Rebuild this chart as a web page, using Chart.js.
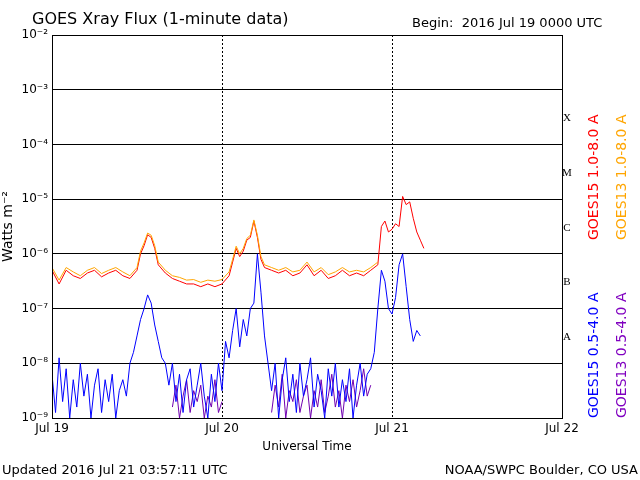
<!DOCTYPE html>
<html><head><meta charset="utf-8">
<script src="https://cdn.jsdelivr.net/npm/chart.js@4/dist/chart.umd.min.js"></script>
<style>body{margin:0;background:#fff}#wrap{width:640px;height:480px}</style>
</head><body><div id="wrap"><canvas id="c" width="640" height="480"></canvas></div>
<script>
// hours since 2016 Jul 19 00:00 UTC, values as log10(W/m2)
const redHours = [0,1,2,3,4,5,6,7,8,9,10,11,12,12.5,13,13.5,14,14.5,15,16,17,18,19,20,21,22,23,24,25,25.5,26,26.5,27,27.5,28,28.5,29,29.5,30,31,32,33,34,35,36,37,38,39,40,41,42,43,44,45,46,46.5,47,47.5,48,48.5,49,49.5,50,50.5,51,51.5,52,52.5];
const redLog = [-6.3,-6.55,-6.3,-6.4,-6.45,-6.35,-6.3,-6.42,-6.35,-6.3,-6.4,-6.45,-6.3,-6.0,-5.85,-5.65,-5.7,-5.9,-6.2,-6.35,-6.45,-6.5,-6.55,-6.55,-6.6,-6.55,-6.6,-6.55,-6.4,-6.15,-5.9,-6.05,-5.95,-5.75,-5.7,-5.4,-5.7,-6.1,-6.25,-6.3,-6.35,-6.3,-6.4,-6.35,-6.2,-6.4,-6.3,-6.45,-6.4,-6.3,-6.4,-6.35,-6.4,-6.3,-6.2,-5.5,-5.4,-5.6,-5.55,-5.45,-5.5,-4.95,-5.1,-5.05,-5.35,-5.6,-5.75,-5.9];
const orangeHours = [0,1,2,3,4,5,6,7,8,9,10,11,12,12.5,13,13.5,14,14.5,15,16,17,18,19,20,21,22,23,24,25,25.5,26,26.5,27,27.5,28,28.5,29,29.5,30,31,32,33,34,35,36,37,38,39,40,41,42,43,44,45,46];
const orangeLog = [-6.25,-6.48,-6.25,-6.33,-6.4,-6.3,-6.25,-6.36,-6.3,-6.25,-6.33,-6.4,-6.25,-5.95,-5.8,-5.62,-5.66,-5.85,-6.15,-6.3,-6.4,-6.43,-6.48,-6.47,-6.52,-6.48,-6.5,-6.47,-6.33,-6.1,-5.86,-6.0,-5.9,-5.72,-5.66,-5.38,-5.66,-6.05,-6.2,-6.25,-6.3,-6.25,-6.33,-6.3,-6.15,-6.33,-6.25,-6.38,-6.33,-6.25,-6.33,-6.3,-6.33,-6.25,-6.15];
const blueHours = [0,0.5,1,1.5,2,2.5,3,3.5,4,4.5,5,5.5,6,6.5,7,7.5,8,8.5,9,9.5,10,10.5,11,11.5,12,12.5,13,13.5,14,14.5,15,15.5,16,16.5,17,17.5,18,18.5,19,19.5,20,20.5,21,21.5,22,22.5,23,23.5,24,24.5,25,25.5,26,26.5,27,27.5,28,28.5,29,29.5,30,30.5,31,31.5,32,32.5,33,33.5,34,34.5,35,35.5,36,36.5,37,37.5,38,38.5,39,39.5,40,40.5,41,41.5,42,42.5,43,43.5,44,44.5,45,45.5,46,46.5,47,47.5,48,48.5,49,49.5,50,50.5,51,51.5,52];
const blueLog = [-8.2,-8.9,-7.9,-8.7,-8.1,-9,-8.3,-8.8,-8.0,-8.6,-8.2,-9,-8.4,-8.1,-8.9,-8.3,-8.7,-8.2,-9,-8.5,-8.3,-8.6,-8.0,-7.8,-7.5,-7.2,-7.0,-6.75,-6.9,-7.3,-7.6,-7.9,-8.0,-8.4,-8.0,-8.7,-8.2,-8.9,-8.3,-8.1,-8.8,-8.4,-8.0,-8.6,-9,-8.2,-8.7,-8.0,-8.5,-7.6,-7.9,-7.4,-7.0,-7.7,-7.2,-7.5,-7.0,-6.9,-6.0,-6.7,-7.5,-8.0,-8.5,-8.0,-9,-8.3,-7.9,-8.7,-8.2,-8.9,-8.0,-8.6,-8.3,-7.9,-8.8,-8.2,-8.5,-9,-8.1,-8.6,-8.0,-8.8,-8.3,-8.7,-8.1,-9,-8.4,-8.0,-8.6,-8.2,-8.1,-7.8,-7.0,-6.3,-6.5,-7.0,-7.1,-6.8,-6.2,-6.0,-6.6,-7.2,-7.6,-7.4,-7.5];
// GOES13 short channel: two stretches, null marks the gap
const purpleHours = [17,17.5,18,18.5,19,19.5,20,20.5,21,21.5,22,22.5,23,23.5,24,27,31,31.5,32,32.5,33,33.5,34,34.5,35,35.5,36,36.5,37,37.5,38,38.5,39,39.5,40,40.5,41,41.5,42,42.5,43,43.5,44,44.5,45];
const purpleLog = [-8.8,-8.4,-9,-8.6,-8.3,-8.9,-8.5,-8.7,-8.4,-9,-8.6,-8.8,-8.3,-8.9,-8.7,null,-8.9,-8.4,-8.8,-8.2,-9,-8.5,-8.7,-8.3,-8.9,-8.6,-8.4,-9,-8.5,-8.8,-8.3,-8.9,-8.6,-8.2,-8.8,-8.5,-9,-8.4,-8.7,-8.3,-8.8,-8.5,-8.1,-8.6,-8.4];
const dayTicks = [0, 24, 48, 72];
const dayLabels = ['Jul 19', 'Jul 20', 'Jul 21', 'Jul 22'];
const decadeTicks = [-9,-8,-7,-6,-5,-4,-3,-2];
const sup = {'-':'⁻','0':'⁰','1':'¹','2':'²','3':'³','4':'⁴','5':'⁵','6':'⁶','7':'⁷','8':'⁸','9':'⁹'};
const flareClasses = [['A',-7.5],['B',-6.5],['C',-5.5],['M',-4.5],['X',-3.5]];

function pts(h, v) { return h.map((x, i) => ({x: x, y: v[i] === null ? null : Math.pow(10, v[i])})); }
function line(label, h, v, color) {
  return {label, data: pts(h, v), borderColor: color, borderWidth: 1, pointRadius: 0, tension: 0, fill: false, spanGaps: false};
}

const overlay = {
  id: 'overlay',
  afterDraw(chart) {
    const ctx = chart.ctx, a = chart.chartArea, y = chart.scales.y;
    ctx.save();
    ctx.fillStyle = '#000';
    ctx.font = '16px "DejaVu Sans"';
    ctx.textBaseline = 'alphabetic';
    ctx.textAlign = 'left';
    ctx.fillText('GOES Xray Flux (1-minute data)', 32, 24);
    ctx.font = '13px "DejaVu Sans"';
    ctx.fillText('Begin:  2016 Jul 19 0000 UTC', 412, 27);
    ctx.fillText('Updated 2016 Jul 21 03:57:11 UTC', 2, 474);
    ctx.textAlign = 'right';
    ctx.fillText('NOAA/SWPC Boulder, CO USA', 638, 474);
    ctx.textAlign = 'center';
    ctx.font = '11px "Liberation Serif"';
    flareClasses.forEach(([c, v]) => ctx.fillText(c, 567, y.getPixelForValue(Math.pow(10, v)) + 4));
    // right-side legend
    const leg = [['GOES15 1.0-8.0 A', '#ff0000', 240], ['GOES13 1.0-8.0 A', '#ffa500', 240],
                 ['GOES15 0.5-4.0 A', '#0000ff', 418], ['GOES13 0.5-4.0 A', '#8000c0', 418]];
    ctx.font = '14px "DejaVu Sans"';
    ctx.textAlign = 'left';
    leg.forEach(([t, col, yb], i) => {
      ctx.save();
      ctx.translate(598 + (i % 2) * 28, yb);
      ctx.rotate(-Math.PI / 2);
      ctx.fillStyle = col;
      ctx.fillText(t, 0, 0);
      ctx.restore();
    });
    ctx.strokeStyle = '#000';
    ctx.lineWidth = 1;
    ctx.strokeRect(a.left + 0.5, a.top + 0.5, a.right - a.left, a.bottom - a.top);
    ctx.restore();
  }
};

new Chart(document.getElementById('c'), {
  type: 'line',
  data: {datasets: [
    line('GOES15 0.5-4.0 A', blueHours, blueLog, '#0000ff'),
    line('GOES13 0.5-4.0 A', purpleHours, purpleLog, '#7000b0'),
    line('GOES13 1.0-8.0 A', orangeHours, orangeLog, '#ffa500'),
    line('GOES15 1.0-8.0 A', redHours, redLog, '#ff0000')
  ]},
  options: {
    responsive: false, animation: false,
    layout: {padding: {top: 35, right: 78, left: 0, bottom: 22}},
    plugins: {legend: {display: false}, tooltip: {enabled: false}},
    scales: {
      x: {
        type: 'linear', min: 0, max: 72,
        afterBuildTicks: s => { s.ticks = dayTicks.map(v => ({value: v})); },
        afterFit: s => { s.height = 40; },
        ticks: {callback: v => dayLabels[dayTicks.indexOf(v)], color: '#000', font: {family: 'DejaVu Sans', size: 12}, maxRotation: 0, padding: 4},
        grid: {color: '#000', drawTicks: false},
        border: {display: false, dash: [2, 2]},
        title: {display: true, text: 'Universal Time', color: '#000', font: {family: 'DejaVu Sans', size: 12}, padding: {top: 0}}
      },
      y: {
        type: 'logarithmic', min: 1e-9, max: 1e-2,
        afterBuildTicks: s => { s.ticks = decadeTicks.map(v => ({value: Math.pow(10, v)})); },
        afterFit: s => { s.width = 52; },
        ticks: {callback: v => '10' + String(Math.round(Math.log10(v))).split('').map(ch => sup[ch]).join(''), color: '#000', font: {family: 'DejaVu Sans', size: 12}, padding: 4},
        grid: {color: '#000', drawTicks: false},
        border: {display: false},
        title: {display: true, text: 'Watts m⁻²', color: '#000', font: {family: 'DejaVu Sans', size: 14}, padding: 0}
      }
    }
  },
  plugins: [overlay]
});
</script></body></html>
